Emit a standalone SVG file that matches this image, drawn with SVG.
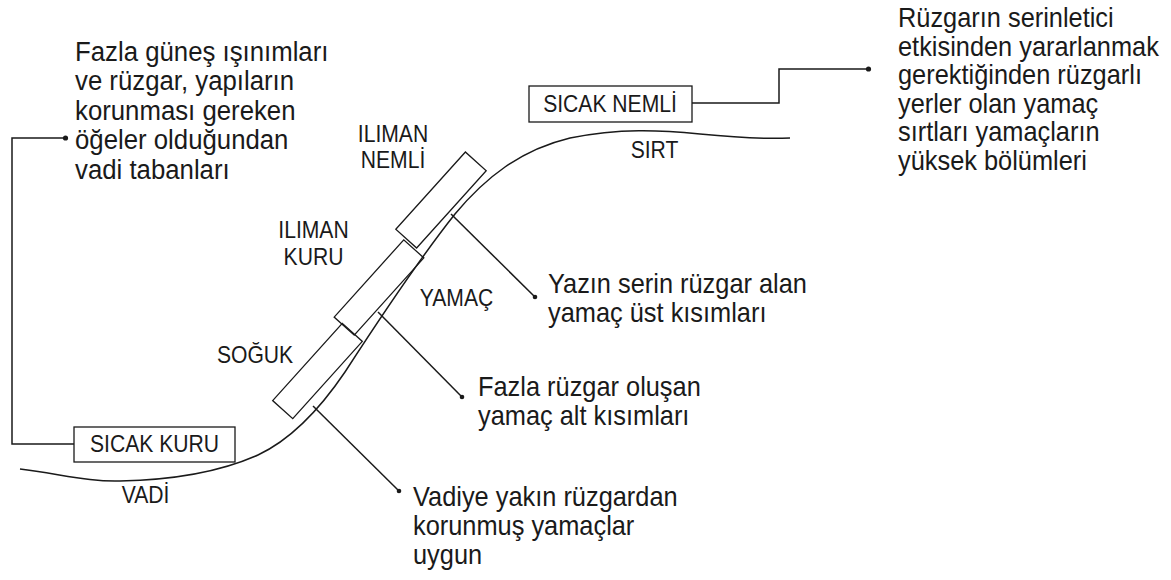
<svg xmlns="http://www.w3.org/2000/svg" width="1171" height="580" viewBox="0 0 1171 580">
  <style>
    .txt { font-family: "Liberation Sans", Arial, sans-serif; fill: #1a1a1a; }
    .para { font-size: 27px; }
    .lbl { font-size: 24px; text-anchor: middle; }
    .ln { fill: none; stroke: #1a1a1a; stroke-width: 1.5; }
    .box { fill: none; stroke: #1a1a1a; stroke-width: 1.3; }
    .dot { fill: #1a1a1a; }
  </style>
  <rect width="1171" height="580" fill="#ffffff"/>

  <!-- terrain profile: valley floor, slope and ridge -->
  <g id="terrain">
    <path class="ln" d="M 20 469 C 60 474, 90 482, 120 481 C 170 480, 220 472, 258 455 C 292 439, 322 406, 345 372 C 380 318, 420 258, 455 214 C 485 178, 520 150, 570 138 C 620 128, 660 130, 700 134 C 740 138, 765 139, 790 138"/>
    <text class="txt lbl" transform="translate(654.5 158) scale(0.88 1)">SIRT</text>
    <text class="txt lbl" transform="translate(145.5 503) scale(0.88 1)">VADİ</text>
    <text class="txt lbl" transform="translate(456.5 306) scale(0.88 1)">YAMAÇ</text>
  </g>

  <!-- slope zones -->
  <g id="zone-iliman-nemli">
    <rect class="box" x="-52" y="-14" width="104" height="28" transform="translate(441 200) rotate(-48)"/>
    <text class="txt lbl" transform="translate(393 142) scale(0.88 1)">ILIMAN</text>
    <text class="txt lbl" transform="translate(393 168) scale(0.88 1)">NEMLİ</text>
  </g>
  <g id="zone-iliman-kuru">
    <rect class="box" x="-52" y="-13.5" width="104" height="27" transform="translate(379 287.5) rotate(-48)"/>
    <text class="txt lbl" transform="translate(313.5 238) scale(0.88 1)">ILIMAN</text>
    <text class="txt lbl" transform="translate(313.5 265) scale(0.88 1)">KURU</text>
  </g>
  <g id="zone-soguk">
    <rect class="box" x="-52" y="-13.5" width="104" height="27" transform="translate(317.5 371) rotate(-48)"/>
    <text class="txt lbl" transform="translate(255 363) scale(0.88 1)">SOĞUK</text>
  </g>

  <!-- climate boxes -->
  <g id="sicak-kuru">
    <rect class="box" x="74" y="427" width="161" height="35"/>
    <text class="txt lbl" transform="translate(154.5 452) scale(0.88 1)">SICAK KURU</text>
  </g>
  <g id="sicak-nemli">
    <rect class="box" x="529" y="86" width="163" height="36"/>
    <text class="txt lbl" transform="translate(610 111.5) scale(0.88 1)">SICAK NEMLİ</text>
  </g>

  <!-- notes -->
  <g id="note-vadi" transform="translate(75 0) scale(0.955 1)">
    <text class="txt para" x="0" y="61">Fazla güneş ışınımları</text>
    <text class="txt para" x="0" y="90.5">ve rüzgar, yapıların</text>
    <text class="txt para" x="0" y="120">korunması gereken</text>
    <text class="txt para" x="0" y="149.5">öğeler olduğundan</text>
    <text class="txt para" x="0" y="179">vadi tabanları</text>
  </g>
  <g id="note-sirt" transform="translate(898 0) scale(0.94 1)">
    <text class="txt para" x="0" y="27">Rüzgarın serinletici</text>
    <text class="txt para" x="0" y="55.6">etkisinden yararlanmak</text>
    <text class="txt para" x="0" y="84.2">gerektiğinden rüzgarlı</text>
    <text class="txt para" x="0" y="112.8">yerler olan yamaç</text>
    <text class="txt para" x="0" y="141.4">sırtları yamaçların</text>
    <text class="txt para" x="0" y="170">yüksek bölümleri</text>
  </g>
  <g id="note-ust" transform="translate(548 0) scale(0.94 1)">
    <text class="txt para" x="0" y="293">Yazın serin rüzgar alan</text>
    <text class="txt para" x="0" y="322">yamaç üst kısımları</text>
  </g>
  <g id="note-alt" transform="translate(478 0) scale(0.94 1)">
    <text class="txt para" x="0" y="396">Fazla rüzgar oluşan</text>
    <text class="txt para" x="0" y="425">yamaç alt kısımları</text>
  </g>
  <g id="note-vadiye" transform="translate(413 0) scale(0.94 1)">
    <text class="txt para" x="0" y="506">Vadiye yakın rüzgardan</text>
    <text class="txt para" x="0" y="535">korunmuş yamaçlar</text>
    <text class="txt para" x="0" y="564">uygun</text>
  </g>

  <!-- leader lines -->
  <g id="connectors">
    <polyline class="ln" points="65,138 12,138 12,444 74,444"/>
    <circle class="dot" cx="65.5" cy="138" r="2.6"/>
    <polyline class="ln" points="692,103 779,103 779,69 868,69"/>
    <circle class="dot" cx="868.5" cy="69" r="2.6"/>
    <line class="ln" x1="451" y1="214" x2="535" y2="297"/>
    <circle class="dot" cx="535" cy="297" r="2.3"/>
    <line class="ln" x1="378" y1="312" x2="462" y2="397"/>
    <circle class="dot" cx="462" cy="397" r="2.3"/>
    <line class="ln" x1="313" y1="406" x2="399" y2="491"/>
    <circle class="dot" cx="399" cy="491" r="2.3"/>
  </g>
</svg>
